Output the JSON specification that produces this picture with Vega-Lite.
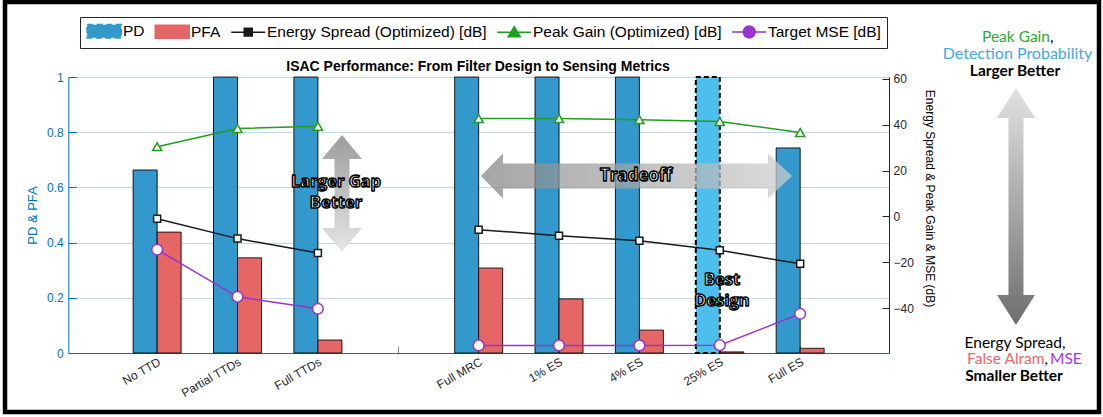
{
  "$schema": "https://vega.github.io/schema/vega-lite/v6.json",
  "width": 1094,
  "height": 410,
  "autosize": {"type": "none"},
  "padding": {"left": 5, "top": 2, "right": 4, "bottom": 5},
  "background": "white",
  "view": {"stroke": "#000000", "strokeWidth": 4.5, "fill": "white"},
  "config": {"font": "Liberation Sans"},
  "datasets": {
    "bars": [
      {"cat": "No TTD", "series": "PD", "value": 0.663},
      {"cat": "No TTD", "series": "PFA", "value": 0.438},
      {"cat": "Partial TTDs", "series": "PD", "value": 1},
      {"cat": "Partial TTDs", "series": "PFA", "value": 0.345},
      {"cat": "Full TTDs", "series": "PD", "value": 1},
      {"cat": "Full TTDs", "series": "PFA", "value": 0.047},
      {"cat": "Full MRC", "series": "PD", "value": 1},
      {"cat": "Full MRC", "series": "PFA", "value": 0.308},
      {"cat": "1% ES", "series": "PD", "value": 1},
      {"cat": "1% ES", "series": "PFA", "value": 0.196},
      {"cat": "4% ES", "series": "PD", "value": 1},
      {"cat": "4% ES", "series": "PFA", "value": 0.083},
      {"cat": "25% ES", "series": "PD", "value": 1},
      {"cat": "25% ES", "series": "PFA", "value": 0.004},
      {"cat": "Full ES", "series": "PD", "value": 0.743},
      {"cat": "Full ES", "series": "PFA", "value": 0.017}
    ],
    "lines": [
      {"cat": "No TTD", "series": "Energy Spread (Optimized) [dB]", "seg": "TTD", "value": -1.0},
      {"cat": "Partial TTDs", "series": "Energy Spread (Optimized) [dB]", "seg": "TTD", "value": -9.7},
      {"cat": "Full TTDs", "series": "Energy Spread (Optimized) [dB]", "seg": "TTD", "value": -16.0},
      {"cat": "Full MRC", "series": "Energy Spread (Optimized) [dB]", "seg": "ES", "value": -5.8},
      {"cat": "1% ES", "series": "Energy Spread (Optimized) [dB]", "seg": "ES", "value": -8.4},
      {"cat": "4% ES", "series": "Energy Spread (Optimized) [dB]", "seg": "ES", "value": -10.6},
      {"cat": "25% ES", "series": "Energy Spread (Optimized) [dB]", "seg": "ES", "value": -14.8},
      {"cat": "Full ES", "series": "Energy Spread (Optimized) [dB]", "seg": "ES", "value": -20.7},
      {"cat": "No TTD", "series": "Peak Gain (Optimized) [dB]", "seg": "TTD", "value": 30.4},
      {"cat": "Partial TTDs", "series": "Peak Gain (Optimized) [dB]", "seg": "TTD", "value": 38.3},
      {"cat": "Full TTDs", "series": "Peak Gain (Optimized) [dB]", "seg": "TTD", "value": 39.3},
      {"cat": "Full MRC", "series": "Peak Gain (Optimized) [dB]", "seg": "ES", "value": 42.7},
      {"cat": "1% ES", "series": "Peak Gain (Optimized) [dB]", "seg": "ES", "value": 42.7},
      {"cat": "4% ES", "series": "Peak Gain (Optimized) [dB]", "seg": "ES", "value": 42.2},
      {"cat": "25% ES", "series": "Peak Gain (Optimized) [dB]", "seg": "ES", "value": 41.4},
      {"cat": "Full ES", "series": "Peak Gain (Optimized) [dB]", "seg": "ES", "value": 36.6},
      {"cat": "No TTD", "series": "Target MSE [dB]", "seg": "TTD", "value": -14.5},
      {"cat": "Partial TTDs", "series": "Target MSE [dB]", "seg": "TTD", "value": -35.1},
      {"cat": "Full TTDs", "series": "Target MSE [dB]", "seg": "TTD", "value": -40.3},
      {"cat": "Full MRC", "series": "Target MSE [dB]", "seg": "ES", "value": -56.3},
      {"cat": "1% ES", "series": "Target MSE [dB]", "seg": "ES", "value": -56.3},
      {"cat": "4% ES", "series": "Target MSE [dB]", "seg": "ES", "value": -56.3},
      {"cat": "25% ES", "series": "Target MSE [dB]", "seg": "ES", "value": -56.2},
      {"cat": "Full ES", "series": "Target MSE [dB]", "seg": "ES", "value": -42.5}
    ]
  },
  "layer": [
    {
      "encoding": {
        "x": {
          "field": "cat", "type": "nominal", "title": null,
          "scale": {"type": "band", "domain": ["No TTD", "Partial TTDs", "Full TTDs", " ", "Full MRC", "1% ES", "4% ES", "25% ES", "Full ES"], "range": [63.3, 884], "paddingInner": 0.403, "paddingOuter": 0.8066},
          "axis": {"orient": "bottom", "offset": -59, "title": null, "labelAngle": -30, "labelFontSize": 12, "labelColor": "#262626", "domainColor": "#35618f", "tickColor": "#8c8c8c", "tickSize": -7, "labelPadding": 10, "grid": false}
        }
      },
      "layer": [
        {
          "data": {"name": "bars"},
          "mark": {"type": "bar", "stroke": "#000000"},
          "encoding": {
            "xOffset": {"field": "series", "type": "nominal", "scale": {"domain": ["PD", "PFA"], "paddingInner": 0, "paddingOuter": 0}},
            "y": {
              "field": "value", "type": "quantitative",
              "scale": {"domain": [0, 1], "range": [351, 75], "nice": false},
              "axis": {"orient": "left", "offset": -63.3, "values": [0, 0.2, 0.4, 0.6, 0.8, 1], "format": "~g", "title": "PD & PFA", "titleColor": "#0072BD", "titleFontSize": 13, "titleFontWeight": "normal", "titlePadding": 7, "labelColor": "#0072BD", "labelFontSize": 12, "domainColor": "#0072BD", "tickColor": "#0072BD", "tickSize": -8, "labelPadding": 13, "grid": true, "gridColor": "#c6d8e8"}
            },
            "color": {
              "condition": {"test": "datum.cat === '25% ES' && datum.series === 'PD'", "value": "#4DBFED"},
              "field": "series", "type": "nominal",
              "scale": {"domain": ["PD", "PFA", "Energy Spread (Optimized) [dB]", "Peak Gain (Optimized) [dB]", "Target MSE [dB]"], "range": ["#3399CC", "#E66666", "#1a1a1a", "#1f9e1f", "#9933cc"]},
              "legend": {
                "orient": "none", "legendX": 75, "legendY": 15, "direction": "horizontal", "columns": 5, "title": null,
                "labelFontSize": 15.5, "labelColor": "#000000", "labelOffset": 11, "labelLimit": 400,
                "symbolSize": 169, "symbolOffset": 10.5, "columnPadding": 7, "padding": 6, "strokeColor": "#262626", "fillColor": "white",
                "encode": {
                  "symbols": {
                    "update": {
                      "shape": {"signal": "['M-2.615,-1H2.615V1H-2.615Z','M-2.615,-1H2.615V1H-2.615Z','M-2.615,0H-0.615M0.615,0H2.615M-0.615,-0.615H0.615V0.615H-0.615Z','M-2.615,0H2.615M0,-0.85L0.92,0.7L-0.92,0.7Z','M-2.615,0H2.615M-0.9,0A0.9,0.9,0,1,0,0.9,0A0.9,0.9,0,1,0,-0.9,0Z'][datum.index]"},
                      "fill": {"signal": "['#4DBFED','#E66666','white','white','white'][datum.index]"},
                      "stroke": {"signal": "['#000000','#333333','#1a1a1a','#1f9e1f','#9933cc'][datum.index]"},
                      "strokeDash": {"signal": "datum.index === 0 ? [6, 3.5] : [1, 0]"},
                      "strokeWidth": {"signal": "datum.index === 0 ? 2 : 1.5"},
                      "opacity": {"value": 1}
                    }
                  }
                }
              }
            },
            "strokeDash": {"condition": {"test": "datum.cat === '25% ES' && datum.series === 'PD'", "value": [5, 3]}, "value": [1, 0]},
            "strokeWidth": {"condition": {"test": "datum.cat === '25% ES' && datum.series === 'PD'", "value": 2}, "value": 0.9}
          }
        },
        {
          "data": {"name": "lines"},
          "encoding": {
            "y": {
              "field": "value", "type": "quantitative",
              "scale": {"domain": [-59.6, 60.8], "range": [351, 75], "nice": false, "zero": false},
              "axis": {"orient": "right", "offset": -210, "values": [-40, -20, 0, 20, 40, 60], "title": "Energy Spread & Peak Gain & MSE (dB)", "titleColor": "#000000", "titleFontSize": 12, "titleFontWeight": "normal", "titlePadding": 9, "titleY": 196, "labelColor": "#262626", "labelFontSize": 12, "domainColor": "#262626", "tickColor": "#262626", "tickSize": -7, "labelPadding": 11, "grid": false}
            },
            "color": {
              "field": "series", "type": "nominal",
              "legend": {
                "orient": "none", "legendX": 75, "legendY": 15, "direction": "horizontal", "columns": 5, "title": null,
                "labelFontSize": 15.5, "labelColor": "#000000", "labelOffset": 11, "labelLimit": 400,
                "symbolSize": 169, "symbolOffset": 10.5, "columnPadding": 7, "padding": 6, "strokeColor": "#262626", "fillColor": "white",
                "encode": {
                  "symbols": {
                    "update": {
                      "shape": {"signal": "['M-2.615,-1H2.615V1H-2.615Z','M-2.615,-1H2.615V1H-2.615Z','M-2.615,0H-0.615M0.615,0H2.615M-0.615,-0.615H0.615V0.615H-0.615Z','M-2.615,0H2.615M0,-0.85L0.92,0.7L-0.92,0.7Z','M-2.615,0H2.615M-0.9,0A0.9,0.9,0,1,0,0.9,0A0.9,0.9,0,1,0,-0.9,0Z'][datum.index]"},
                      "fill": {"signal": "['#4DBFED','#E66666','white','white','white'][datum.index]"},
                      "stroke": {"signal": "['#000000','#333333','#1a1a1a','#1f9e1f','#9933cc'][datum.index]"},
                      "strokeDash": {"signal": "datum.index === 0 ? [6, 3.5] : [1, 0]"},
                      "strokeWidth": {"signal": "datum.index === 0 ? 2 : 1.5"},
                      "opacity": {"value": 1}
                    }
                  }
                }
              }
            }
          },
          "layer": [
            {
              "mark": {"type": "line", "strokeWidth": 1.5},
              "encoding": {"detail": {"field": "seg", "type": "nominal"}, "order": {"value": null}}
            },
            {
              "mark": {"type": "point", "filled": false, "fill": "white", "strokeWidth": 1.5, "opacity": 1},
              "encoding": {
                "shape": {"field": "series", "type": "nominal", "scale": {"domain": ["Energy Spread (Optimized) [dB]", "Peak Gain (Optimized) [dB]", "Target MSE [dB]"], "range": ["square", "triangle-up", "circle"]}, "legend": null},
                "size": {"field": "series", "type": "ordinal", "scale": {"domain": ["Energy Spread (Optimized) [dB]", "Peak Gain (Optimized) [dB]", "Target MSE [dB]"], "range": [49, 115, 144]}, "legend": null}
              }
            }
          ]
        }
      ],
      "resolve": {"scale": {"y": "independent"}}
    },
    {
      "data": {"values": [{}]},
      "mark": {"type": "point", "shape": "M-1,0L-0.8585,-0.1447L-0.8585,-0.0804L0.8457,-0.0804L0.8457,-0.1447L1,0L0.8457,0.1447L0.8457,0.0804L-0.8585,0.0804L-0.8585,0.1447Z", "size": 96721, "filled": true, "strokeWidth": 0, "opacity": 0.72, "fill": {"gradient": "linear", "x1": 0, "y1": 0, "x2": 1, "y2": 0, "stops": [{"offset": 0, "color": "#828282"}, {"offset": 1, "color": "#cfcfcf"}]}},
      "encoding": {
        "x": {"datum": 5.961, "type": "quantitative", "scale": {"type": "linear", "domain": [-1.1056, 9.1009], "range": [63.3, 884], "nice": false, "zero": false}, "axis": null},
        "y": {"datum": 0.6413, "type": "quantitative", "scale": {"type": "linear", "domain": [0, 1], "range": [351, 75], "nice": false, "zero": false}, "axis": null}
      }
    },
    {
      "data": {"values": [{}]},
      "mark": {"type": "point", "shape": "M0,-1L0.342,-0.59L0.128,-0.59L0.128,0.59L0.342,0.59L0,1L-0.342,0.59L-0.128,0.59L-0.128,-0.59L-0.342,-0.59Z", "size": 13689, "filled": true, "strokeWidth": 0, "opacity": 1, "fill": {"gradient": "linear", "x1": 0, "y1": 0, "x2": 0, "y2": 1, "stops": [{"offset": 0, "color": "#9c9c9c"}, {"offset": 1, "color": "#e6e6e6"}]}},
      "encoding": {
        "x": {"datum": 2.298, "type": "quantitative", "scale": {"type": "linear", "domain": [-1.1056, 9.1009], "range": [63.3, 884], "nice": false, "zero": false}, "axis": null},
        "y": {"datum": 0.578, "type": "quantitative", "scale": {"type": "linear", "domain": [0, 1], "range": [351, 75], "nice": false, "zero": false}, "axis": null}
      }
    },
    {
      "data": {"values": [{}]},
      "mark": {"type": "point", "shape": "M0,-1L0.16,-0.747L0.0633,-0.747L0.0633,0.747L0.16,0.747L0,1L-0.16,0.747L-0.0633,0.747L-0.0633,-0.747L-0.16,-0.747Z", "size": 56169, "filled": true, "strokeWidth": 0, "opacity": 1, "fill": {"gradient": "linear", "x1": 0, "y1": 0, "x2": 0, "y2": 1, "stops": [{"offset": 0, "color": "#e2e2e2"}, {"offset": 1, "color": "#6e6e6e"}]}},
      "encoding": {
        "x": {"datum": 10.68, "type": "quantitative", "scale": {"type": "linear", "domain": [-1.1056, 9.1009], "range": [63.3, 884], "nice": false, "zero": false}, "axis": null},
        "y": {"datum": 0.5308, "type": "quantitative", "scale": {"type": "linear", "domain": [0, 1], "range": [351, 75], "nice": false, "zero": false}, "axis": null}
      }
    },
    {
      "data": {"values": [{}]},
      "mark": {"type": "text", "text": "ISAC Performance: From Filter Design to Sensing Metrics", "font": "Liberation Sans", "fontSize": 14, "fontWeight": "bold", "color": "#000000", "align": "center", "baseline": "middle"},
      "encoding": {
        "x": {"datum": 3.99, "type": "quantitative", "scale": {"type": "linear", "domain": [-1.1056, 9.1009], "range": [63.3, 884], "nice": false, "zero": false}, "axis": null},
        "y": {"datum": 1.0362, "type": "quantitative", "scale": {"type": "linear", "domain": [0, 1], "range": [351, 75], "nice": false, "zero": false}, "axis": null}
      }
    },
    {
      "data": {"values": [{}]},
      "mark": {"type": "text", "text": ["Larger Gap", "Better"], "lineHeight": 21, "font": "Open Sans", "fontSize": 16.5, "fontWeight": "bold", "fill": "white", "stroke": "black", "strokeWidth": 1.5, "strokeJoin": "round", "align": "center", "baseline": "middle"},
      "encoding": {
        "x": {"datum": 2.224, "type": "quantitative", "scale": {"type": "linear", "domain": [-1.1056, 9.1009], "range": [63.3, 884], "nice": false, "zero": false}, "axis": null},
        "y": {"datum": 0.6196, "type": "quantitative", "scale": {"type": "linear", "domain": [0, 1], "range": [351, 75], "nice": false, "zero": false}, "axis": null}
      }
    },
    {
      "data": {"values": [{}]},
      "mark": {"type": "text", "text": "Tradeoff", "font": "Open Sans", "fontSize": 17, "fontWeight": "bold", "fill": "white", "stroke": "black", "strokeWidth": 1.5, "strokeJoin": "round", "align": "center", "baseline": "middle"},
      "encoding": {
        "x": {"datum": 5.955, "type": "quantitative", "scale": {"type": "linear", "domain": [-1.1056, 9.1009], "range": [63.3, 884], "nice": false, "zero": false}, "axis": null},
        "y": {"datum": 0.6413, "type": "quantitative", "scale": {"type": "linear", "domain": [0, 1], "range": [351, 75], "nice": false, "zero": false}, "axis": null}
      }
    },
    {
      "data": {"values": [{}]},
      "mark": {"type": "text", "text": ["Best", "Design"], "lineHeight": 21, "font": "Open Sans", "fontSize": 16.5, "fontWeight": "bold", "fill": "white", "stroke": "black", "strokeWidth": 1.5, "strokeJoin": "round", "align": "center", "baseline": "middle"},
      "encoding": {
        "x": {"datum": 7.024, "type": "quantitative", "scale": {"type": "linear", "domain": [-1.1056, 9.1009], "range": [63.3, 884], "nice": false, "zero": false}, "axis": null},
        "y": {"datum": 0.2645, "type": "quantitative", "scale": {"type": "linear", "domain": [0, 1], "range": [351, 75], "nice": false, "zero": false}, "axis": null}
      }
    },
    {
      "data": {"values": [{}]},
      "mark": {"type": "text", "text": "Peak Gain", "font": "Lato", "fontSize": 15.5, "color": "#2eaa3a", "align": "right", "baseline": "middle"},
      "encoding": {
        "x": {"datum": 11.103, "type": "quantitative", "scale": {"type": "linear", "domain": [-1.1056, 9.1009], "range": [63.3, 884], "nice": false, "zero": false}, "axis": null},
        "y": {"datum": 1.1449, "type": "quantitative", "scale": {"type": "linear", "domain": [0, 1], "range": [351, 75], "nice": false, "zero": false}, "axis": null}
      }
    },
    {
      "data": {"values": [{}]},
      "mark": {"type": "text", "text": ",", "font": "Lato", "fontSize": 15.5, "color": "#000000", "align": "left", "baseline": "middle"},
      "encoding": {
        "x": {"datum": 11.103, "type": "quantitative", "scale": {"type": "linear", "domain": [-1.1056, 9.1009], "range": [63.3, 884], "nice": false, "zero": false}, "axis": null},
        "y": {"datum": 1.1449, "type": "quantitative", "scale": {"type": "linear", "domain": [0, 1], "range": [351, 75], "nice": false, "zero": false}, "axis": null}
      }
    },
    {
      "data": {"values": [{}]},
      "mark": {"type": "text", "text": "Detection Probability", "font": "Lato", "fontSize": 16, "color": "#44a9e0", "align": "center", "baseline": "middle"},
      "encoding": {
        "x": {"datum": 10.699, "type": "quantitative", "scale": {"type": "linear", "domain": [-1.1056, 9.1009], "range": [63.3, 884], "nice": false, "zero": false}, "axis": null},
        "y": {"datum": 1.0833, "type": "quantitative", "scale": {"type": "linear", "domain": [0, 1], "range": [351, 75], "nice": false, "zero": false}, "axis": null}
      }
    },
    {
      "data": {"values": [{}]},
      "mark": {"type": "text", "text": "Larger Better", "font": "Lato", "fontSize": 15.5, "fontWeight": "bold", "color": "#000000", "align": "center", "baseline": "middle"},
      "encoding": {
        "x": {"datum": 10.668, "type": "quantitative", "scale": {"type": "linear", "domain": [-1.1056, 9.1009], "range": [63.3, 884], "nice": false, "zero": false}, "axis": null},
        "y": {"datum": 1.0217, "type": "quantitative", "scale": {"type": "linear", "domain": [0, 1], "range": [351, 75], "nice": false, "zero": false}, "axis": null}
      }
    },
    {
      "data": {"values": [{}]},
      "mark": {"type": "text", "text": "Energy Spread,", "font": "Lato", "fontSize": 15.5, "color": "#000000", "align": "center", "baseline": "middle"},
      "encoding": {
        "x": {"datum": 10.668, "type": "quantitative", "scale": {"type": "linear", "domain": [-1.1056, 9.1009], "range": [63.3, 884], "nice": false, "zero": false}, "axis": null},
        "y": {"datum": 0.0362, "type": "quantitative", "scale": {"type": "linear", "domain": [0, 1], "range": [351, 75], "nice": false, "zero": false}, "axis": null}
      }
    },
    {
      "data": {"values": [{}]},
      "mark": {"type": "text", "text": "False Alram", "font": "Lato", "fontSize": 15.5, "color": "#f0686a", "align": "right", "baseline": "middle"},
      "encoding": {
        "x": {"datum": 11.035, "type": "quantitative", "scale": {"type": "linear", "domain": [-1.1056, 9.1009], "range": [63.3, 884], "nice": false, "zero": false}, "axis": null},
        "y": {"datum": -0.0217, "type": "quantitative", "scale": {"type": "linear", "domain": [0, 1], "range": [351, 75], "nice": false, "zero": false}, "axis": null}
      }
    },
    {
      "data": {"values": [{}]},
      "mark": {"type": "text", "text": ",", "font": "Lato", "fontSize": 15.5, "color": "#000000", "align": "left", "baseline": "middle"},
      "encoding": {
        "x": {"datum": 11.035, "type": "quantitative", "scale": {"type": "linear", "domain": [-1.1056, 9.1009], "range": [63.3, 884], "nice": false, "zero": false}, "axis": null},
        "y": {"datum": -0.0217, "type": "quantitative", "scale": {"type": "linear", "domain": [0, 1], "range": [351, 75], "nice": false, "zero": false}, "axis": null}
      }
    },
    {
      "data": {"values": [{}]},
      "mark": {"type": "text", "text": "MSE", "font": "Lato", "fontSize": 15.5, "color": "#a23be6", "align": "left", "baseline": "middle"},
      "encoding": {
        "x": {"datum": 11.103, "type": "quantitative", "scale": {"type": "linear", "domain": [-1.1056, 9.1009], "range": [63.3, 884], "nice": false, "zero": false}, "axis": null},
        "y": {"datum": -0.0217, "type": "quantitative", "scale": {"type": "linear", "domain": [0, 1], "range": [351, 75], "nice": false, "zero": false}, "axis": null}
      }
    },
    {
      "data": {"values": [{}]},
      "mark": {"type": "text", "text": "Smaller Better", "font": "Lato", "fontSize": 15.5, "fontWeight": "bold", "color": "#000000", "align": "center", "baseline": "middle"},
      "encoding": {
        "x": {"datum": 10.656, "type": "quantitative", "scale": {"type": "linear", "domain": [-1.1056, 9.1009], "range": [63.3, 884], "nice": false, "zero": false}, "axis": null},
        "y": {"datum": -0.0833, "type": "quantitative", "scale": {"type": "linear", "domain": [0, 1], "range": [351, 75], "nice": false, "zero": false}, "axis": null}
      }
    }
  ],
  "resolve": {"scale": {"x": "independent", "y": "independent"}}
}
